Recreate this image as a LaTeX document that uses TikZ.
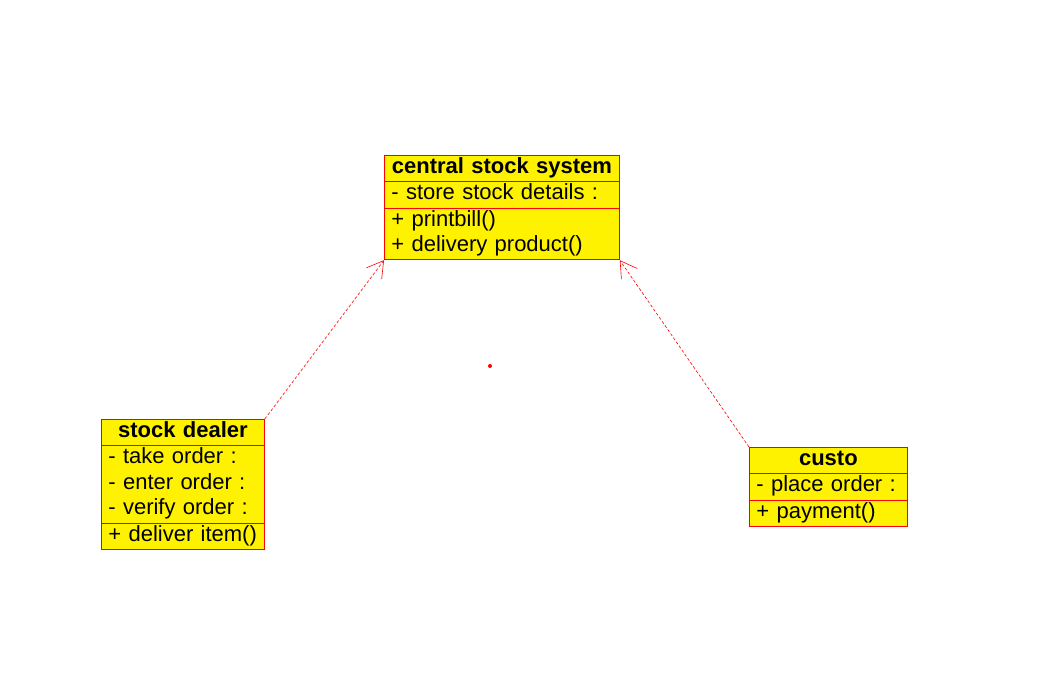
\documentclass[tikz,border=0pt]{standalone}
\usepackage{fontspec}
\setmainfont{Liberation Sans}
\usetikzlibrary{shapes, arrows.meta, positioning}
\tikzstyle{umlclass} = [rectangle split, rectangle split parts=3, draw=red, fill=yellow, line width=0.8pt, inner xsep=7pt, inner ysep=0pt, align=left, anchor=north west, font=\fontsize{22}{25.5}\selectfont]
\tikzstyle{realize} = [red, dashed, line width=0.6pt, dash pattern=on 3pt off 2pt, -{Straight Barb[length=16pt,width=19pt]}]
\newcommand{\classname}[1]{\makebox[\hsize]{\textbf{#1}}\strut}

\begin{document}
\begin{tikzpicture}[x=1pt,y=-1pt]
      \useasboundingbox (0,0) rectangle (1052,691);
      \node (central) [umlclass, text width=221pt] at (384,155) {\classname{central stock system}
        \nodepart{two}\strut - store stock details :
        \nodepart{three}\strut + printbill()\\\strut + delivery product()};
      \node (dealer) [umlclass, text width=149pt] at (101,419) {\classname{stock dealer}
        \nodepart{two}\strut - take order :\\\strut - enter order :\\\strut - verify order :
        \nodepart{three}\strut + deliver item()};
      \node (custo) [umlclass, text width=144pt] at (749,447) {\classname{custo}
        \nodepart{two}\strut - place order :
        \nodepart{three}\strut + payment()};
      \node (dot) [circle, fill=red, inner sep=0pt, minimum size=4pt] at (490,366) {};
      \draw [realize] (dealer.north east) -- (central.south west);
      \draw [realize] (custo.north west) -- (central.south east);
    \end{tikzpicture}
\end{document}
